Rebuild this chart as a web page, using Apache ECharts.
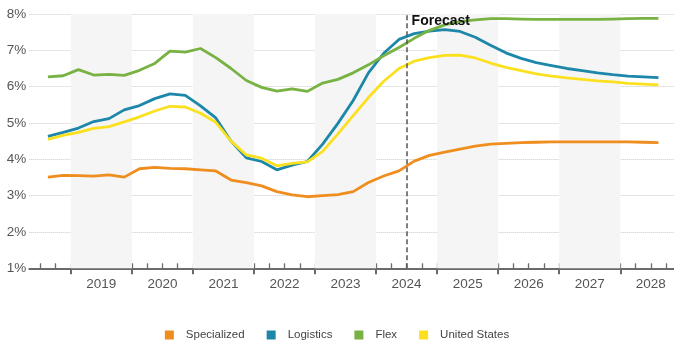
<!DOCTYPE html>
<html>
<head>
<meta charset="utf-8">
<script src="https://cdn.jsdelivr.net/npm/echarts@6/dist/echarts.min.js"></script>
<style>
  html, body { margin: 0; padding: 0; background: #fff; }
  #chart { width: 674px; height: 343px; }
</style>
</head>
<body>
<div id="chart"></div>
<script>
// Quarterly vacancy rates (%), history then forecast
const quarters = [
  '2018 Q3','2018 Q4',
  '2019 Q1','2019 Q2','2019 Q3','2019 Q4',
  '2020 Q1','2020 Q2','2020 Q3','2020 Q4',
  '2021 Q1','2021 Q2','2021 Q3','2021 Q4',
  '2022 Q1','2022 Q2','2022 Q3','2022 Q4',
  '2023 Q1','2023 Q2','2023 Q3','2023 Q4',
  '2024 Q1','2024 Q2','2024 Q3','2024 Q4',
  '2025 Q1','2025 Q2','2025 Q3','2025 Q4',
  '2026 Q1','2026 Q2','2026 Q3','2026 Q4',
  '2027 Q1','2027 Q2','2027 Q3','2027 Q4',
  '2028 Q1','2028 Q2','2028 Q3'
];

const specialized = [3.51,3.56,3.55,3.54,3.57,3.51,3.74,3.78,3.75,3.74,
                     3.71,3.68,3.43,3.36,3.27,3.11,3.02,2.97,3.00,3.03,
                     3.11,3.36,3.54,3.68,3.95,4.11,4.20,4.28,4.36,4.42,
                     4.44,4.46,4.47,4.48,4.48,4.48,4.48,4.48,4.48,4.47,4.46];

const logistics = [4.63,4.74,4.86,5.04,5.12,5.36,5.48,5.67,5.80,5.76,
                   5.47,5.14,4.50,4.04,3.94,3.71,3.84,3.94,4.42,4.99,
                   5.62,6.38,6.92,7.30,7.46,7.53,7.57,7.52,7.36,7.14,
                   6.93,6.78,6.66,6.58,6.50,6.44,6.38,6.33,6.29,6.27,6.25];

const flex = [6.27,6.30,6.47,6.32,6.34,6.31,6.45,6.64,6.98,6.95,
              7.05,6.80,6.50,6.17,5.98,5.88,5.94,5.87,6.10,6.20,
              6.38,6.60,6.85,7.08,7.33,7.55,7.70,7.79,7.84,7.87,
              7.87,7.86,7.85,7.85,7.85,7.85,7.85,7.86,7.87,7.88,7.88];

const unitedStates = [4.55,4.66,4.74,4.85,4.90,5.03,5.17,5.33,5.46,5.44,
                      5.27,5.02,4.50,4.12,4.03,3.82,3.89,3.93,4.22,4.70,
                      5.20,5.70,6.15,6.50,6.70,6.80,6.86,6.87,6.79,6.65,
                      6.53,6.44,6.35,6.29,6.24,6.20,6.16,6.13,6.09,6.07,6.05];

const yearLabels = [2019, 2020, 2021, 2022, 2023, 2024, 2025, 2026, 2027, 2028];
const shadedYears = [2019, 2021, 2023, 2025, 2027];
const forecastYear = 2024;
const forecastText = 'Forecast';

const seriesDefs = [
  { name: 'Specialized',   values: specialized,  color: '#EF8D1F' },
  { name: 'Logistics',     values: logistics,    color: '#1C87A8' },
  { name: 'Flex',          values: flex,         color: '#77B243' },
  { name: 'United States', values: unitedStates, color: '#FBE01F' }
];

// Each year label sits at the centre of its year; quarters fill it evenly.
function quarterPos(q) {
  const parts = q.split(' Q');
  return Number(parts[0]) + (Number(parts[1]) - 2.5) * 0.25;
}

const xMin = 2017.82;
const xMax = 2028.38;

// Quarter boundaries (short ticks) and year boundaries (long ticks)
const minorTicks = [];
const majorTicks = [];
for (let y = 2018; y <= 2029; y++) {
  [-0.5, -0.25, 0, 0.25].forEach(function (d) {
    const v = y + d;
    if (v > xMin && v < xMax) minorTicks.push(v);
  });
  if (y - 0.5 > xMin && y - 0.5 < xMax) majorTicks.push(y - 0.5);
}

const font = 'Liberation Sans, Arial, Helvetica, sans-serif';

const series = seriesDefs.map(function (s) {
  return {
    name: s.name,
    type: 'line',
    data: quarters.map(function (q, i) { return [quarterPos(q), s.values[i]]; }),
    showSymbol: false,
    symbol: 'none',
    lineStyle: { width: 2.8, color: s.color },
    itemStyle: { color: s.color },
    z: 3
  };
});

// Alternating year shading, forecast divider and its caption
series.unshift({
  type: 'line',
  data: [],
  silent: true,
  z: 1,
  markArea: {
    silent: true,
    itemStyle: { color: '#F5F5F5' },
    data: shadedYears.map(function (y) { return [{ xAxis: y - 0.5 }, { xAxis: y + 0.5 }]; })
  }
});
series.push({
  type: 'line',
  data: [],
  silent: true,
  z: 5,
  markLine: {
    silent: true,
    symbol: ['none', 'none'],
    label: { show: false },
    lineStyle: { color: '#555', width: 1.5, type: [5, 3] },
    data: [[{ coord: [forecastYear, 1] }, { coord: [forecastYear, 8] }]]
  },
  markPoint: {
    silent: true,
    symbol: 'circle',
    symbolSize: 0,
    data: [{ coord: [forecastYear, 8], value: forecastText }],
    label: {
      show: true,
      position: 'right',
      distance: 0,
      offset: [5, 7],
      formatter: forecastText,
      fontFamily: font,
      fontSize: 14,
      fontWeight: 'bold',
      color: '#111'
    }
  }
});

const chart = echarts.init(document.getElementById('chart'), null, { renderer: 'canvas' });
chart.setOption({
  animation: false,
  backgroundColor: '#fff',
  grid: { left: 29.3, right: 0, top: 14, bottom: 74.7, containLabel: false },
  legend: {
    data: seriesDefs.map(function (s) { return s.name; }),
    top: 324,
    left: 'center',
    icon: 'rect',
    itemWidth: 9,
    itemHeight: 9,
    itemGap: 22,
    textStyle: { fontFamily: font, fontSize: 11.5, color: '#444', padding: [0, 0, 0, 7] }
  },
  xAxis: [
    {
      type: 'value',
      min: xMin,
      max: xMax,
      splitLine: { show: false },
      axisLine: { show: true, lineStyle: { color: '#6a6a6a', width: 2 } },
      axisTick: { show: true, inside: true, length: 5, customValues: minorTicks,
                  lineStyle: { color: '#6a6a6a', width: 1.3 } },
      axisLabel: { customValues: yearLabels, margin: 9, fontFamily: font, fontSize: 13.5,
                   color: '#555', formatter: function (v) { return String(Math.round(v)); } }
    },
    {
      type: 'value',
      min: xMin,
      max: xMax,
      position: 'bottom',
      splitLine: { show: false },
      axisLine: { show: false },
      axisTick: { show: true, inside: false, length: 6, customValues: majorTicks,
                  lineStyle: { color: '#6a6a6a', width: 2 } },
      axisLabel: { show: false }
    }
  ],
  yAxis: {
    type: 'value',
    min: 1,
    max: 8,
    interval: 1,
    axisLine: { show: false },
    axisTick: { show: false },
    splitLine: { show: true, lineStyle: { color: '#c8c8c8', type: 'dotted', width: 1 } },
    axisLabel: { formatter: '{value}%', margin: 3, fontFamily: font, fontSize: 13.5, color: '#555' }
  },
  series: series
});
</script>
</body>
</html>
